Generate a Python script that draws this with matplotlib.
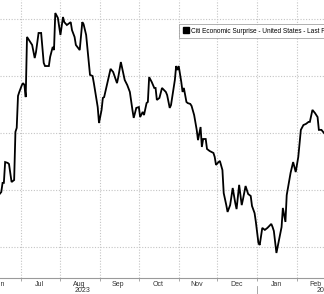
import numpy as np
import pandas as pd
import matplotlib
matplotlib.use("Agg")
import matplotlib.pyplot as plt
import matplotlib.dates as mdates
from matplotlib.lines import Line2D

plt.rcParams['font.family'] = ['Liberation Sans', 'DejaVu Sans']

# Citi Economic Surprise Index - United States
dates = [
    "2023-06-14", "2023-06-16", "2023-06-17", "2023-06-18", "2023-06-19", "2023-06-21",
    "2023-06-22", "2023-06-24", "2023-06-26", "2023-06-27", "2023-06-28", "2023-06-29",
    "2023-06-30", "2023-07-02", "2023-07-03", "2023-07-04", "2023-07-05", "2023-07-06",
    "2023-07-09", "2023-07-10", "2023-07-12", "2023-07-13", "2023-07-15", "2023-07-17",
    "2023-07-19", "2023-07-20", "2023-07-23", "2023-07-24", "2023-07-26", "2023-07-27",
    "2023-07-28", "2023-07-30", "2023-08-01", "2023-08-03", "2023-08-04", "2023-08-06",
    "2023-08-09", "2023-08-10", "2023-08-12", "2023-08-13", "2023-08-16", "2023-08-18",
    "2023-08-19", "2023-08-21", "2023-08-22", "2023-08-24", "2023-08-26", "2023-08-27",
    "2023-08-30", "2023-08-31", "2023-09-02", "2023-09-03", "2023-09-04", "2023-09-07",
    "2023-09-09", "2023-09-11", "2023-09-14", "2023-09-15", "2023-09-17", "2023-09-20",
    "2023-09-22", "2023-09-24", "2023-09-26", "2023-09-27", "2023-09-29", "2023-10-01",
    "2023-10-02", "2023-10-04", "2023-10-05", "2023-10-07", "2023-10-08", "2023-10-09",
    "2023-10-11", "2023-10-13", "2023-10-14", "2023-10-15", "2023-10-17", "2023-10-19",
    "2023-10-22", "2023-10-23", "2023-10-25", "2023-10-26", "2023-10-29", "2023-10-30",
    "2023-10-31", "2023-11-01", "2023-11-03", "2023-11-04", "2023-11-05", "2023-11-07",
    "2023-11-08", "2023-11-10", "2023-11-11", "2023-11-13", "2023-11-15", "2023-11-16",
    "2023-11-18", "2023-11-19", "2023-11-20", "2023-11-22", "2023-11-23", "2023-11-25",
    "2023-11-28", "2023-11-29", "2023-11-30", "2023-12-02", "2023-12-03", "2023-12-05",
    "2023-12-06", "2023-12-08", "2023-12-09", "2023-12-11", "2023-12-13", "2023-12-15",
    "2023-12-16", "2023-12-18", "2023-12-20", "2023-12-21", "2023-12-23", "2023-12-25",
    "2023-12-27", "2023-12-28", "2023-12-30", "2023-12-31", "2024-01-02", "2024-01-03",
    "2024-01-05", "2024-01-07", "2024-01-09", "2024-01-12", "2024-01-13", "2024-01-14",
    "2024-01-16", "2024-01-18", "2024-01-20", "2024-01-21", "2024-01-23", "2024-01-24",
    "2024-01-27", "2024-01-29", "2024-01-31", "2024-02-02", "2024-02-04", "2024-02-06",
    "2024-02-08", "2024-02-10", "2024-02-11", "2024-02-13", "2024-02-15", "2024-02-17",
    "2024-02-18", "2024-02-20", "2024-02-22",
]
surprise = [
    18.2, 19.3, 22.5, 22.5, 29.8, 29.5,
    29.1, 22.8, 23.5, 40.4, 41.8, 53.0,
    54.4, 56.8, 57.5, 56.8, 52.6, 73.7,
    71.6, 70.9, 66.3, 68.4, 75.1, 75.1,
    64.6, 63.5, 63.5, 66.7, 70.2, 69.1,
    82.1, 80.4, 74.4, 80.7, 78.9, 77.9,
    78.9, 76.1, 73.7, 70.9, 69.1, 78.9,
    78.2, 74.4, 69.8, 60.4, 60.0, 57.5,
    49.1, 43.5, 48.1, 52.3, 52.6, 58.6,
    62.5, 61.4, 57.5, 59.6, 64.9, 58.6,
    56.8, 54.4, 48.1, 45.3, 48.8, 49.1,
    45.6, 47.4, 46.3, 50.5, 50.9, 59.6,
    57.9, 55.8, 55.8, 51.6, 52.3, 55.8,
    54.4, 53.3, 48.8, 49.8, 58.6, 63.5,
    62.1, 63.5, 57.9, 54.4, 55.8, 50.9,
    50.5, 50.2, 49.5, 46.3, 41.1, 37.5,
    42.1, 35.1, 37.9, 37.9, 34.4, 33.7,
    33.0, 31.6, 28.8, 29.8, 30.2, 27.0,
    18.9, 14.7, 12.3, 14.7, 20.7, 15.4,
    13.3, 21.8, 14.7, 16.8, 21.4, 18.6,
    17.9, 14.4, 11.9, 8.8, 1.4, 0.7,
    6.7, 6.0, 6.7, 8.1, 7.0, 5.6,
    -2.1, 2.5, 7.0, 13.7, 8.8, 18.2,
    26.0, 29.8, 26.3, 31.6, 41.1, 42.8,
    43.2, 43.9, 43.9, 48.1, 47.0, 45.6,
    41.1, 41.1, 40.0,
]
month_labels = ["Jun", "Jul", "Aug", "Sep", "Oct", "Nov", "Dec", "Jan", "Feb"]
month_mids = ["2023-06-15", "2023-07-16", "2023-08-16", "2023-09-15", "2023-10-16",
              "2023-11-15", "2023-12-16", "2024-01-16", "2024-02-15"]
year_labels = ["2023", "2024"]
year_pos = ["2023-08-18", "2024-02-22"]

x = pd.to_datetime(dates)

fig = plt.figure(figsize=(3.24, 2.94), dpi=100)
ax = fig.add_axes([0, 16 / 294, 1, 278 / 294])

ax.plot(x, surprise, color="black", lw=1.3, solid_joinstyle="miter")

ax.set_xlim(pd.Timestamp("2023-07-01") - pd.Timedelta(days=15.5),
            pd.Timestamp("2023-07-01") + pd.Timedelta(days=236))
ax.set_ylim(-10.88, 86.67)

ax.set_yticks([0, 20, 40, 60, 80])
ax.tick_params(axis="y", left=False, labelleft=False)
ax.xaxis.set_major_locator(mdates.MonthLocator())
ax.xaxis.set_major_formatter(plt.NullFormatter())
ax.set_xticks(pd.to_datetime(month_mids), minor=True)
ax.set_xticklabels(month_labels, minor=True)
ax.tick_params(axis="x", which="major", length=2, color="#9a9a9a", width=0.6)
ax.tick_params(axis="x", which="minor", length=0, pad=2, labelsize=5, labelcolor="#333333")

ax.grid(True, which="major", color="#c4c4c4", linestyle=(0, (1, 1.5)), lw=0.8)
for s in ["top", "left", "right"]:
    ax.spines[s].set_visible(False)
ax.spines["bottom"].set_color("#9a9a9a")
ax.spines["bottom"].set_linewidth(0.8)

for lab, pos in zip(year_labels, year_pos):
    ax.text(pd.Timestamp(pos), -0.044, lab, transform=ax.get_xaxis_transform(),
            ha="center", va="center", fontsize=5, color="#333333", clip_on=False)
ax.plot([pd.Timestamp("2024-01-01")] * 2, [-0.03, -0.06], transform=ax.get_xaxis_transform(),
        color="#9a9a9a", lw=0.6, clip_on=False)

handle = Line2D([], [], color="black", marker="s", markersize=4, linestyle="none")
leg = ax.legend([handle], ["Citi Economic Surprise - United States - Last Price"],
                loc="upper left", bbox_to_anchor=(179 / 324, 1 - 24 / 278),
                fontsize=4.7, frameon=True, fancybox=False, borderpad=0.55,
                handlelength=0.9, handletextpad=0.35, borderaxespad=0)
leg.get_frame().set_edgecolor("#8c8c8c")
leg.get_frame().set_linewidth(0.6)

fig.savefig("out.png", dpi=100)
